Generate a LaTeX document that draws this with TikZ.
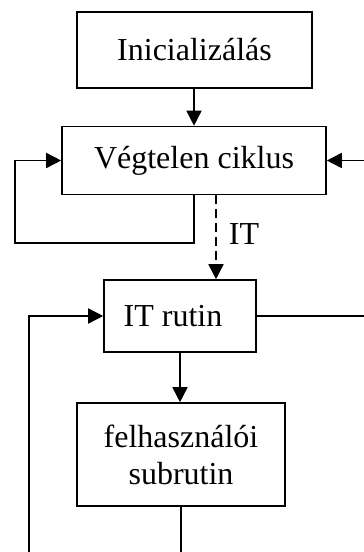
\documentclass[tikz,border=0pt]{standalone}
\usepackage{fontspec}
\setmainfont{Liberation Serif}
\usetikzlibrary{arrows.meta}
\begin{document}
\begin{tikzpicture}[x=1pt,y=-1pt,
  box/.style={draw,line width=1.6pt,inner sep=0pt,font=\fontsize{32}{37}\selectfont,align=center},
  conn/.style={line width=1.6pt},
  arr/.style={conn,-{Triangle[length=15pt,width=15pt]}},
  lbl/.style={font=\fontsize{32}{37}\selectfont,inner sep=0pt}]
\useasboundingbox (0,0) rectangle (364,552);
\node[box,minimum width=235,minimum height=76] (init) at (194.5,50) {Inicializálás};
\node[box,minimum width=264,minimum height=68] (veg) at (194,160.5) {Végtelen ciklus};
\node[box,minimum width=152,minimum height=72] (it) at (180,316) {IT rutin\hspace*{14pt}};
\node[box,minimum width=208,minimum height=103] (felh) at (181,454.5) {felhasználói\\subrutin};
\node[lbl] (itl) at (244,234) {IT};
\coordinate (l1) at (15,243);
\coordinate (r1) at (364,0);
\coordinate (d) at (216,0);
\coordinate (b1) at (29,552);
\coordinate (b2) at (181,552);
\draw[arr] (init.south -| veg.north) -- (veg.north);
\draw[arr] (veg.south) |- (l1) |- (veg.west);
\draw[arr] (veg.east -| r1) -- (veg.east);
\draw[arr,dash pattern=on 9pt off 5pt] (veg.south -| d) -- (it.north -| d);
\draw[conn] (it.east) -- (it.east -| r1);
\draw[arr] (b1) |- (it.west);
\draw[arr] (it.south) -- (it.south |- felh.north);
\draw[conn] (felh.south) -- (b2);
\end{tikzpicture}
\end{document}
